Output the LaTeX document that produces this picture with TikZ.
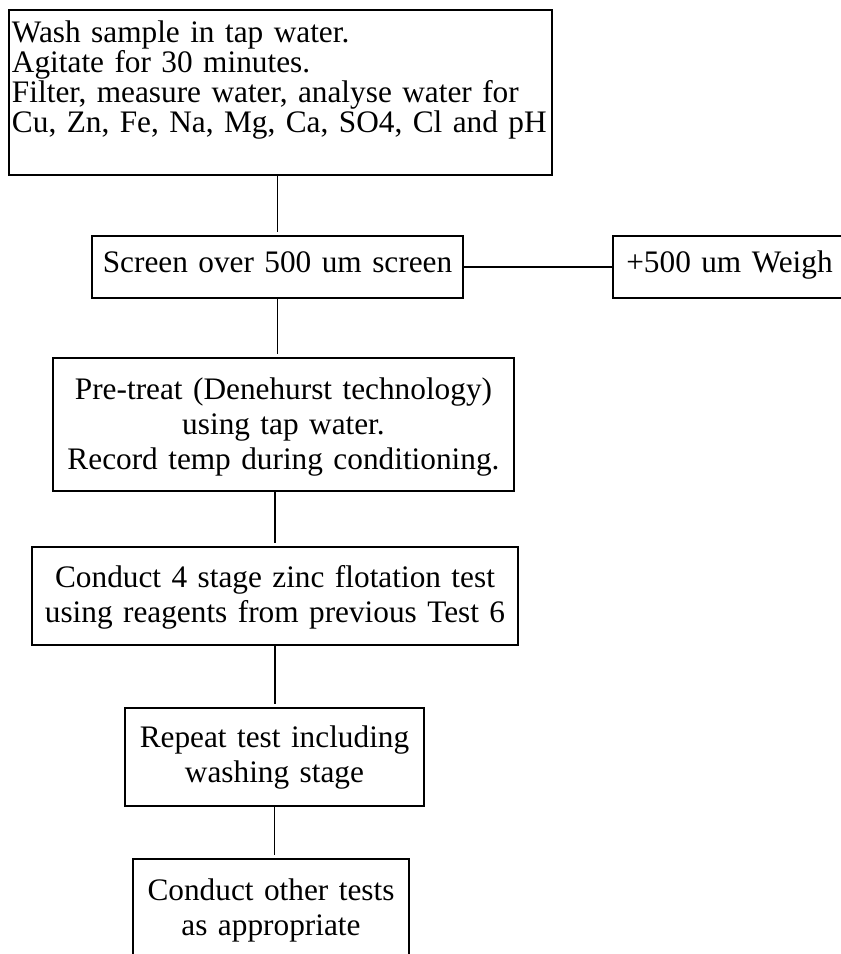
\documentclass[tikz,border=0pt]{standalone}
\usepackage{fontspec}
\setmainfont{Liberation Serif}
\usetikzlibrary{positioning,calc}

\begin{document}
\begin{tikzpicture}[x=1pt,y=-1pt,
		stepbox/.style={draw, line width=1.2pt, inner sep=0pt, align=center,
			font=\fontsize{31.3}{35}\selectfont},
		link/.style={line width=1.2pt, shorten >=3pt}]
	\useasboundingbox (0,0) rectangle (841,954);
	\node[stepbox, align=left, inner xsep=3pt, text width=537pt, text height=32pt, text depth=133pt,
		font=\fontsize{31.3}{30}\selectfont] (wash) at (280.5,92.5)
		{Wash sample in tap water.\\Agitate for 30 minutes.\\Filter, measure water, analyse water for\\Cu, Zn, Fe, Na, Mg, Ca, SO4, Cl and pH};
	\node[stepbox, text width=371pt, text height=36pt, text depth=26pt] (screen) at (277.5,267) {Screen over 500 um screen};
	\node[stepbox, text width=233pt, text height=36pt, text depth=26pt] (weigh) at (729.5,267) {+500 um Weigh};
	\node[stepbox, text width=461pt, text height=41pt, text depth=92pt] (pretreat) at (283.5,424.5)
		{Pre-treat (Denehurst technology)\\using tap water.\\Record temp during conditioning.};
	\node[stepbox, text width=486pt, text height=40pt, text depth=58pt] (flot) at (275,596)
		{Conduct 4 stage zinc flotation test\\using reagents from previous Test 6};
	\node[stepbox, text width=299pt, text height=39pt, text depth=59pt] (repeat) at (274.5,757)
		{Repeat test including\\washing stage};
	\node[stepbox, text width=276pt, text height=41pt, text depth=65pt] (other) at (271,912)
		{Conduct other tests\\as appropriate};
	\draw[link] (wash.south -| screen) -- (screen.north);
	\draw[link, shorten >=0pt] (screen.east) -- (weigh.west);
	\draw[link] (screen.south) -- (screen.south |- pretreat.north);
	\draw[link] (pretreat.south -| flot) -- (flot.north);
	\draw[link] (flot.south) -- (flot.south |- repeat.north);
	\draw[link] (repeat.south) -- (repeat.south |- other.north);
\end{tikzpicture}
\end{document}
